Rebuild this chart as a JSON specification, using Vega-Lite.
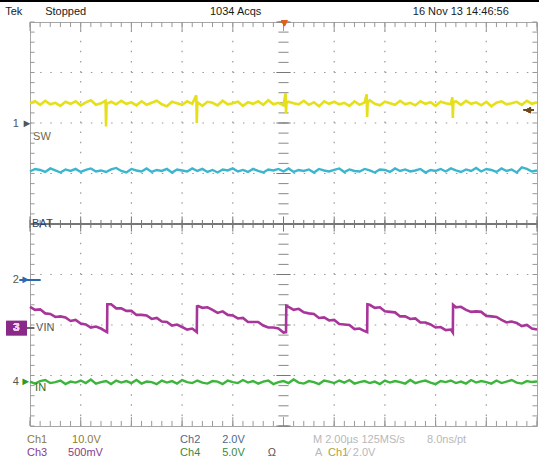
{
  "$schema": "https://vega.github.io/schema/vega-lite/v6.json",
  "width": 507,
  "height": 404,
  "autosize": {"type": "none"},
  "padding": {"left": 30, "top": 22, "right": 2, "bottom": 36},
  "background": "white",
  "config": {
    "view": {"stroke": "#a6a6a6", "strokeWidth": 1},
    "axis": {"labels": false, "ticks": false, "domain": false, "grid": false, "titleOpacity": 0},
    "text": {"font": "Liberation Sans Narrow, Liberation Sans, sans-serif", "fontSize": 11, "baseline": "middle", "align": "left"}
  },
  "datasets": {
    "mx": [{"x":0},{"x":0.2},{"x":0.4},{"x":0.6},{"x":0.8},{"x":1},{"x":1.2},{"x":1.4},{"x":1.6},{"x":1.8},{"x":2},{"x":2.2},{"x":2.4},{"x":2.6},{"x":2.8},{"x":3},{"x":3.2},{"x":3.4},{"x":3.6},{"x":3.8},{"x":4},{"x":4.2},{"x":4.4},{"x":4.6},{"x":4.8},{"x":5},{"x":5.2},{"x":5.4},{"x":5.6},{"x":5.8},{"x":6},{"x":6.2},{"x":6.4},{"x":6.6},{"x":6.8},{"x":7},{"x":7.2},{"x":7.4},{"x":7.6},{"x":7.8},{"x":8},{"x":8.2},{"x":8.4},{"x":8.6},{"x":8.8},{"x":9},{"x":9.2},{"x":9.4},{"x":9.6},{"x":9.8},{"x":10}],
    "Mx": [{"x":0},{"x":1},{"x":2},{"x":3},{"x":4},{"x":5},{"x":6},{"x":7},{"x":8},{"x":9},{"x":10}],
    "gx": [{"x":1},{"x":2},{"x":3},{"x":4},{"x":6},{"x":7},{"x":8},{"x":9}],
    "gy": [{"y":-3},{"y":-2},{"y":-1},{"y":1},{"y":2},{"y":3}],
    "my": [{"y":-4},{"y":-3.8},{"y":-3.6},{"y":-3.4},{"y":-3.2},{"y":-3},{"y":-2.8},{"y":-2.6},{"y":-2.4},{"y":-2.2},{"y":-2},{"y":-1.8},{"y":-1.6},{"y":-1.4},{"y":-1.2},{"y":-1},{"y":-0.8},{"y":-0.6},{"y":-0.4},{"y":-0.2},{"y":0},{"y":0.2},{"y":0.4},{"y":0.6},{"y":0.8},{"y":1},{"y":1.2},{"y":1.4},{"y":1.6},{"y":1.8},{"y":2},{"y":2.2},{"y":2.4},{"y":2.6},{"y":2.8},{"y":3},{"y":3.2},{"y":3.4},{"y":3.6},{"y":3.8},{"y":4}],
    "My": [{"y":-4},{"y":-3},{"y":-2},{"y":-1},{"y":0},{"y":1},{"y":2},{"y":3},{"y":4}],
    "ch1": [{"x":0,"y":2.39},{"x":0.1,"y":2.43},{"x":0.2,"y":2.36},{"x":0.3,"y":2.44},{"x":0.4,"y":2.37},{"x":0.5,"y":2.40},{"x":0.6,"y":2.34},{"x":0.7,"y":2.42},{"x":0.8,"y":2.38},{"x":0.9,"y":2.43},{"x":1.0,"y":2.35},{"x":1.1,"y":2.41},{"x":1.2,"y":2.45},{"x":1.3,"y":2.36},{"x":1.4,"y":2.39},{"x":1.49,"y":2.44},{"x":1.50,"y":1.93},{"x":1.51,"y":2.38},{"x":1.6,"y":2.42},{"x":1.7,"y":2.37},{"x":1.8,"y":2.44},{"x":1.9,"y":2.38},
      {"x":2.0,"y":2.41},{"x":2.1,"y":2.35},{"x":2.2,"y":2.43},{"x":2.3,"y":2.36},{"x":2.4,"y":2.40},{"x":2.5,"y":2.44},{"x":2.6,"y":2.37},{"x":2.7,"y":2.33},{"x":2.8,"y":2.42},{"x":2.9,"y":2.39},{"x":3.0,"y":2.36},{"x":3.1,"y":2.43},{"x":3.2,"y":2.38},{"x":3.28,"y":2.55},{"x":3.29,"y":2.00},{"x":3.3,"y":2.41},{"x":3.4,"y":2.34},{"x":3.5,"y":2.42},{"x":3.6,"y":2.40},{"x":3.7,"y":2.35},{"x":3.8,"y":2.44},{"x":3.9,"y":2.37},
      {"x":4.0,"y":2.39},{"x":4.1,"y":2.42},{"x":4.2,"y":2.34},{"x":4.3,"y":2.41},{"x":4.4,"y":2.38},{"x":4.5,"y":2.43},{"x":4.6,"y":2.36},{"x":4.7,"y":2.45},{"x":4.8,"y":2.37},{"x":4.9,"y":2.40},{"x":5.0,"y":2.35},{"x":5.04,"y":2.59},{"x":5.05,"y":2.20},{"x":5.06,"y":2.42},{"x":5.1,"y":2.42},{"x":5.2,"y":2.39},{"x":5.3,"y":2.37},{"x":5.4,"y":2.44},{"x":5.5,"y":2.36},{"x":5.6,"y":2.41},{"x":5.7,"y":2.33},{"x":5.8,"y":2.43},{"x":5.9,"y":2.38},
      {"x":6.0,"y":2.42},{"x":6.1,"y":2.37},{"x":6.2,"y":2.40},{"x":6.3,"y":2.34},{"x":6.4,"y":2.43},{"x":6.5,"y":2.36},{"x":6.6,"y":2.41},{"x":6.64,"y":2.57},{"x":6.65,"y":2.12},{"x":6.66,"y":2.40},{"x":6.7,"y":2.45},{"x":6.8,"y":2.38},{"x":6.9,"y":2.35},{"x":7.0,"y":2.42},{"x":7.1,"y":2.39},{"x":7.2,"y":2.36},{"x":7.3,"y":2.44},{"x":7.4,"y":2.37},{"x":7.5,"y":2.40},{"x":7.6,"y":2.35},{"x":7.7,"y":2.43},{"x":7.8,"y":2.38},{"x":7.9,"y":2.41},
      {"x":8.0,"y":2.34},{"x":8.1,"y":2.42},{"x":8.2,"y":2.39},{"x":8.3,"y":2.37},{"x":8.33,"y":2.51},{"x":8.34,"y":2.10},{"x":8.35,"y":2.41},{"x":8.4,"y":2.43},{"x":8.5,"y":2.36},{"x":8.6,"y":2.44},{"x":8.7,"y":2.38},{"x":8.8,"y":2.41},{"x":8.9,"y":2.35},{"x":9.0,"y":2.42},{"x":9.1,"y":2.33},{"x":9.2,"y":2.40},{"x":9.3,"y":2.43},{"x":9.4,"y":2.37},{"x":9.5,"y":2.39},{"x":9.6,"y":2.42},{"x":9.7,"y":2.36},{"x":9.8,"y":2.44},{"x":9.9,"y":2.38},{"x":10.0,"y":2.41}],
    "ch2": [{"x":0,"y":1.04},{"x":0.1,"y":1.09},{"x":0.2,"y":1.07},{"x":0.3,"y":1.03},{"x":0.4,"y":1.10},{"x":0.5,"y":1.06},{"x":0.6,"y":1.02},{"x":0.7,"y":1.08},{"x":0.8,"y":1.05},{"x":0.9,"y":1.09},{"x":1.0,"y":1.03},{"x":1.1,"y":1.07},{"x":1.2,"y":1.10},{"x":1.3,"y":1.04},{"x":1.4,"y":1.06},{"x":1.5,"y":1.03},{"x":1.6,"y":1.08},{"x":1.7,"y":1.11},{"x":1.8,"y":1.05},{"x":1.9,"y":1.02},
      {"x":2.0,"y":1.09},{"x":2.1,"y":1.06},{"x":2.2,"y":1.04},{"x":2.3,"y":1.10},{"x":2.4,"y":1.03},{"x":2.5,"y":1.07},{"x":2.6,"y":1.05},{"x":2.7,"y":1.09},{"x":2.8,"y":1.02},{"x":2.9,"y":1.08},{"x":3.0,"y":1.06},{"x":3.1,"y":1.04},{"x":3.2,"y":1.10},{"x":3.3,"y":1.05},{"x":3.4,"y":1.09},{"x":3.5,"y":1.03},{"x":3.6,"y":1.07},{"x":3.7,"y":1.02},{"x":3.8,"y":1.08},{"x":3.9,"y":1.06},
      {"x":4.0,"y":1.10},{"x":4.1,"y":1.04},{"x":4.2,"y":1.07},{"x":4.3,"y":1.03},{"x":4.4,"y":1.09},{"x":4.5,"y":1.05},{"x":4.6,"y":1.02},{"x":4.7,"y":1.08},{"x":4.8,"y":1.06},{"x":4.9,"y":1.09},{"x":5.0,"y":1.04},{"x":5.1,"y":1.10},{"x":5.2,"y":1.03},{"x":5.3,"y":1.07},{"x":5.4,"y":1.05},{"x":5.5,"y":1.08},{"x":5.6,"y":1.02},{"x":5.7,"y":1.09},{"x":5.8,"y":1.06},{"x":5.9,"y":1.04},
      {"x":6.0,"y":1.07},{"x":6.1,"y":1.10},{"x":6.2,"y":1.03},{"x":6.3,"y":1.08},{"x":6.4,"y":1.05},{"x":6.5,"y":1.04},{"x":6.6,"y":1.09},{"x":6.7,"y":1.06},{"x":6.8,"y":1.02},{"x":6.9,"y":1.08},{"x":7.0,"y":1.07},{"x":7.1,"y":1.03},{"x":7.2,"y":1.10},{"x":7.3,"y":1.05},{"x":7.4,"y":1.08},{"x":7.5,"y":1.04},{"x":7.6,"y":1.06},{"x":7.7,"y":1.09},{"x":7.8,"y":1.02},{"x":7.9,"y":1.07},
      {"x":8.0,"y":1.05},{"x":8.1,"y":1.09},{"x":8.2,"y":1.04},{"x":8.3,"y":1.10},{"x":8.4,"y":1.06},{"x":8.5,"y":1.03},{"x":8.6,"y":1.08},{"x":8.7,"y":1.05},{"x":8.8,"y":1.11},{"x":8.9,"y":1.04},{"x":9.0,"y":1.09},{"x":9.1,"y":1.07},{"x":9.2,"y":1.03},{"x":9.3,"y":1.10},{"x":9.4,"y":1.05},{"x":9.5,"y":1.08},{"x":9.6,"y":1.02},{"x":9.7,"y":1.12},{"x":9.8,"y":1.09},{"x":9.9,"y":1.04},{"x":10.0,"y":1.06}],
    "ch3": [{"x":0,"y":-1.64},{"x":0.1,"y":-1.70},{"x":0.2,"y":-1.69},{"x":0.3,"y":-1.77},{"x":0.4,"y":-1.78},{"x":0.5,"y":-1.84},{"x":0.6,"y":-1.83},{"x":0.7,"y":-1.85},{"x":0.8,"y":-1.92},{"x":0.9,"y":-1.90},{"x":1.0,"y":-1.97},{"x":1.1,"y":-1.99},{"x":1.2,"y":-2.05},{"x":1.3,"y":-2.03},{"x":1.4,"y":-2.07},{"x":1.5,"y":-2.13},{"x":1.52,"y":-2.14},{"x":1.525,"y":-1.59},
      {"x":1.6,"y":-1.59},{"x":1.7,"y":-1.67},{"x":1.8,"y":-1.67},{"x":1.9,"y":-1.72},{"x":2.0,"y":-1.72},{"x":2.1,"y":-1.80},{"x":2.2,"y":-1.80},{"x":2.3,"y":-1.81},{"x":2.4,"y":-1.88},{"x":2.5,"y":-1.86},{"x":2.6,"y":-1.93},{"x":2.7,"y":-1.94},{"x":2.8,"y":-2.01},{"x":2.9,"y":-1.99},{"x":3.0,"y":-2.04},{"x":3.1,"y":-2.09},{"x":3.2,"y":-2.07},{"x":3.29,"y":-2.14},{"x":3.295,"y":-1.61},
      {"x":3.3,"y":-1.62},{"x":3.4,"y":-1.66},{"x":3.5,"y":-1.65},{"x":3.6,"y":-1.70},{"x":3.7,"y":-1.76},{"x":3.8,"y":-1.73},{"x":3.9,"y":-1.80},{"x":4.0,"y":-1.81},{"x":4.1,"y":-1.87},{"x":4.2,"y":-1.86},{"x":4.3,"y":-1.94},{"x":4.4,"y":-1.94},{"x":4.5,"y":-1.94},{"x":4.6,"y":-2.01},{"x":4.7,"y":-2.05},{"x":4.8,"y":-2.05},{"x":4.9,"y":-2.07},{"x":5.0,"y":-2.15},{"x":5.05,"y":-2.14},{"x":5.055,"y":-1.62},
      {"x":5.1,"y":-1.64},{"x":5.2,"y":-1.70},{"x":5.3,"y":-1.68},{"x":5.4,"y":-1.75},{"x":5.5,"y":-1.77},{"x":5.6,"y":-1.78},{"x":5.7,"y":-1.86},{"x":5.8,"y":-1.85},{"x":5.9,"y":-1.91},{"x":6.0,"y":-1.90},{"x":6.1,"y":-1.98},{"x":6.2,"y":-1.99},{"x":6.3,"y":-2.00},{"x":6.4,"y":-2.08},{"x":6.5,"y":-2.07},{"x":6.6,"y":-2.12},{"x":6.65,"y":-2.14},{"x":6.655,"y":-1.59},
      {"x":6.7,"y":-1.60},{"x":6.8,"y":-1.66},{"x":6.9,"y":-1.65},{"x":7.0,"y":-1.73},{"x":7.1,"y":-1.74},{"x":7.2,"y":-1.75},{"x":7.3,"y":-1.83},{"x":7.4,"y":-1.83},{"x":7.5,"y":-1.88},{"x":7.6,"y":-1.87},{"x":7.7,"y":-1.95},{"x":7.8,"y":-1.95},{"x":7.9,"y":-1.99},{"x":8.0,"y":-2.05},{"x":8.1,"y":-2.04},{"x":8.2,"y":-2.10},{"x":8.3,"y":-2.09},{"x":8.34,"y":-2.15},{"x":8.345,"y":-1.60},
      {"x":8.4,"y":-1.65},{"x":8.5,"y":-1.64},{"x":8.6,"y":-1.70},{"x":8.7,"y":-1.74},{"x":8.8,"y":-1.73},{"x":8.9,"y":-1.74},{"x":9.0,"y":-1.82},{"x":9.1,"y":-1.83},{"x":9.2,"y":-1.84},{"x":9.3,"y":-1.90},{"x":9.4,"y":-1.95},{"x":9.5,"y":-1.93},{"x":9.6,"y":-1.96},{"x":9.7,"y":-2.02},{"x":9.8,"y":-2.00},{"x":9.9,"y":-2.07},{"x":10.0,"y":-2.09}],
    "ch4": [{"x":0,"y":-3.12},{"x":0.1,"y":-3.16},{"x":0.2,"y":-3.11},{"x":0.3,"y":-3.09},{"x":0.4,"y":-3.15},{"x":0.5,"y":-3.13},{"x":0.6,"y":-3.10},{"x":0.7,"y":-3.17},{"x":0.8,"y":-3.12},{"x":0.9,"y":-3.14},{"x":1.0,"y":-3.10},{"x":1.1,"y":-3.15},{"x":1.2,"y":-3.08},{"x":1.3,"y":-3.16},{"x":1.4,"y":-3.13},{"x":1.5,"y":-3.11},{"x":1.6,"y":-3.17},{"x":1.7,"y":-3.10},{"x":1.8,"y":-3.14},{"x":1.9,"y":-3.11},
      {"x":2.0,"y":-3.15},{"x":2.1,"y":-3.09},{"x":2.2,"y":-3.16},{"x":2.3,"y":-3.12},{"x":2.4,"y":-3.13},{"x":2.5,"y":-3.17},{"x":2.6,"y":-3.10},{"x":2.7,"y":-3.14},{"x":2.8,"y":-3.11},{"x":2.9,"y":-3.16},{"x":3.0,"y":-3.09},{"x":3.1,"y":-3.13},{"x":3.2,"y":-3.15},{"x":3.3,"y":-3.10},{"x":3.4,"y":-3.14},{"x":3.5,"y":-3.16},{"x":3.6,"y":-3.11},{"x":3.7,"y":-3.12},{"x":3.8,"y":-3.17},{"x":3.9,"y":-3.10},
      {"x":4.0,"y":-3.13},{"x":4.1,"y":-3.15},{"x":4.2,"y":-3.09},{"x":4.3,"y":-3.14},{"x":4.4,"y":-3.11},{"x":4.5,"y":-3.16},{"x":4.6,"y":-3.12},{"x":4.7,"y":-3.10},{"x":4.8,"y":-3.17},{"x":4.9,"y":-3.13},{"x":5.0,"y":-3.11},{"x":5.1,"y":-3.15},{"x":5.2,"y":-3.08},{"x":5.3,"y":-3.14},{"x":5.4,"y":-3.16},{"x":5.5,"y":-3.11},{"x":5.6,"y":-3.13},{"x":5.7,"y":-3.17},{"x":5.8,"y":-3.10},{"x":5.9,"y":-3.12},
      {"x":6.0,"y":-3.15},{"x":6.1,"y":-3.10},{"x":6.2,"y":-3.14},{"x":6.3,"y":-3.09},{"x":6.4,"y":-3.16},{"x":6.5,"y":-3.13},{"x":6.6,"y":-3.11},{"x":6.7,"y":-3.15},{"x":6.8,"y":-3.12},{"x":6.9,"y":-3.17},{"x":7.0,"y":-3.10},{"x":7.1,"y":-3.14},{"x":7.2,"y":-3.11},{"x":7.3,"y":-3.13},{"x":7.4,"y":-3.16},{"x":7.5,"y":-3.09},{"x":7.6,"y":-3.15},{"x":7.7,"y":-3.12},{"x":7.8,"y":-3.10},{"x":7.9,"y":-3.14},
      {"x":8.0,"y":-3.17},{"x":8.1,"y":-3.11},{"x":8.2,"y":-3.13},{"x":8.3,"y":-3.10},{"x":8.4,"y":-3.15},{"x":8.5,"y":-3.12},{"x":8.6,"y":-3.16},{"x":8.7,"y":-3.09},{"x":8.8,"y":-3.14},{"x":8.9,"y":-3.11},{"x":9.0,"y":-3.13},{"x":9.1,"y":-3.16},{"x":9.2,"y":-3.10},{"x":9.3,"y":-3.15},{"x":9.4,"y":-3.12},{"x":9.5,"y":-3.09},{"x":9.6,"y":-3.14},{"x":9.7,"y":-3.16},{"x":9.8,"y":-3.11},{"x":9.9,"y":-3.13},{"x":10.0,"y":-3.12}],
    "lab": [
      {"x":-0.49,"y":4.2,"t":"Tek","c":"h"},
      {"x":0.3,"y":4.2,"t":"Stopped","c":"h"},
      {"x":3.55,"y":4.2,"t":"1034 Acqs","c":"h"},
      {"x":7.55,"y":4.2,"t":"16 Nov 13 14:46:56","c":"h"},
      {"x":-0.06,"y":-4.28,"t":"Ch1","c":"c1"},
      {"x":0.83,"y":-4.28,"t":"10.0V","c":"c1"},
      {"x":2.96,"y":-4.28,"t":"Ch2","c":"c2"},
      {"x":3.79,"y":-4.28,"t":"2.0V","c":"c2"},
      {"x":-0.06,"y":-4.53,"t":"Ch3","c":"c3"},
      {"x":0.75,"y":-4.53,"t":"500mV","c":"c3"},
      {"x":2.96,"y":-4.53,"t":"Ch4","c":"c4"},
      {"x":3.79,"y":-4.53,"t":"5.0V","c":"c4"},
      {"x":4.69,"y":-4.53,"t":"Ω","c":"g"},
      {"x":5.58,"y":-4.28,"t":"M 2.00µs 125MS/s","c":"lg"},
      {"x":7.83,"y":-4.28,"t":"8.0ns/pt","c":"lg"},
      {"x":5.62,"y":-4.53,"t":"A","c":"lg"},
      {"x":5.88,"y":-4.53,"t":"Ch1","c":"c1l"},
      {"x":6.27,"y":-4.53,"t":"⁄  2.0V","c":"lg"},
      {"x":-0.34,"y":1.98,"t":"1","c":"g"},
      {"x":-0.17,"y":1.98,"t":"►","c":"g"},
      {"x":0.06,"y":1.73,"t":"SW","c":"sw"},
      {"x":0.04,"y":0,"t":"BAT","c":"bat"},
      {"x":-0.34,"y":-1.11,"t":"2","c":"g"},
      {"x":-0.19,"y":-1.11,"t":"►","c":"c2a"},
      {"x":0.12,"y":-2.06,"t":"VIN","c":"g"},
      {"x":-0.34,"y":-3.13,"t":"4","c":"g"},
      {"x":-0.19,"y":-3.13,"t":"►","c":"c4a"},
      {"x":0.1,"y":-3.24,"t":"IN","c":"in"}
    ]
  },
  "layer": [
    {
      "data": {"name": "gx"},
      "mark": {"type": "rule", "color": "#9a9a9a", "strokeWidth": 1.2, "strokeDash": [1.5, 8.6]},
      "encoding": {
        "x": {"field": "x", "type": "quantitative", "scale": {"domain": [0, 10], "nice": false, "zero": false}, "axis": null},
        "y": {"datum": -4, "scale": {"domain": [-4, 4], "nice": false, "zero": false}, "axis": null},
        "y2": {"datum": 4}
      }
    },
    {"data": {"name": "gy"}, "mark": {"type": "rule", "color": "#9a9a9a", "strokeWidth": 1.2, "strokeDash": [1.5, 8.64]},
     "encoding": {"y": {"field": "y", "type": "quantitative", "axis": null}, "x": {"datum": 0, "axis": null}, "x2": {"datum": 10}}},
    {"data": {"name": "mx"}, "mark": {"type": "rule", "color": "#999999"},
     "encoding": {"x": {"field": "x", "type": "quantitative", "axis": null}, "y": {"datum": 4, "axis": null}, "y2": {"datum": 3.9}}},
    {"data": {"name": "Mx"}, "mark": {"type": "rule", "color": "#999999"},
     "encoding": {"x": {"field": "x", "type": "quantitative", "axis": null}, "y": {"datum": 4, "axis": null}, "y2": {"datum": 3.82}}},
    {"data": {"name": "mx"}, "mark": {"type": "rule", "color": "#999999"},
     "encoding": {"x": {"field": "x", "type": "quantitative", "axis": null}, "y": {"datum": -4, "axis": null}, "y2": {"datum": -3.9}}},
    {"data": {"name": "Mx"}, "mark": {"type": "rule", "color": "#999999"},
     "encoding": {"x": {"field": "x", "type": "quantitative", "axis": null}, "y": {"datum": -4, "axis": null}, "y2": {"datum": -3.82}}},
    {"data": {"name": "mx"}, "mark": {"type": "rule", "color": "#777777"},
     "encoding": {"x": {"field": "x", "type": "quantitative", "axis": null}, "y": {"datum": 0.08, "axis": null}, "y2": {"datum": -0.08}}},
    {"data": {"name": "Mx"}, "mark": {"type": "rule", "color": "#777777"},
     "encoding": {"x": {"field": "x", "type": "quantitative", "axis": null}, "y": {"datum": 0.15, "axis": null}, "y2": {"datum": -0.15}}},
    {"data": {"name": "my"}, "mark": {"type": "rule", "color": "#888888"},
     "encoding": {"y": {"field": "y", "type": "quantitative", "axis": null}, "x": {"datum": 4.9, "axis": null}, "x2": {"datum": 5.1}}},
    {"data": {"name": "My"}, "mark": {"type": "rule", "color": "#777777"},
     "encoding": {"y": {"field": "y", "type": "quantitative", "axis": null}, "x": {"datum": 4.86, "axis": null}, "x2": {"datum": 5.14}}},
    {"data": {"name": "my"}, "mark": {"type": "rule", "color": "#999999"},
     "encoding": {"y": {"field": "y", "type": "quantitative", "axis": null}, "x": {"datum": 0, "axis": null}, "x2": {"datum": 0.09}}},
    {"data": {"name": "my"}, "mark": {"type": "rule", "color": "#999999"},
     "encoding": {"y": {"field": "y", "type": "quantitative", "axis": null}, "x": {"datum": 9.91, "axis": null}, "x2": {"datum": 10}}},
    {"data": {"name": "Mx"}, "mark": {"type": "rule", "color": "#777777"},
     "encoding": {"y": {"datum": 0, "axis": null}, "x": {"datum": 0, "axis": null}, "x2": {"datum": 10}}},
    {"data": {"name": "Mx"}, "mark": {"type": "rule", "color": "#000000", "strokeWidth": 2.5},
     "encoding": {"y": {"datum": 4.43, "axis": null}, "x": {"datum": -0.6, "axis": null}, "x2": {"datum": 10.05}}},
    {"data": {"name": "Mx"}, "mark": {"type": "rule", "color": "#2a6ab0", "strokeWidth": 1.5},
     "encoding": {"y": {"datum": -1.11, "axis": null}, "x": {"datum": -0.2, "axis": null}, "x2": {"datum": 0.2}}},
    {"data": {"name": "Mx"}, "mark": {"type": "rule", "color": "#666666", "strokeWidth": 1.5},
     "encoding": {"y": {"datum": -2.06, "axis": null}, "x": {"datum": -0.06, "axis": null}, "x2": {"datum": 0.08}}},
    {"data": {"name": "Mx"}, "mark": {"type": "rule", "color": "#6a4a20", "strokeWidth": 1.5},
     "encoding": {"y": {"datum": 2.26, "axis": null}, "x": {"datum": 9.74, "axis": null}, "x2": {"datum": 9.94}}},
    {"data": {"name": "Mx"}, "mark": {"type": "rect", "color": "#8a2a88"},
     "encoding": {"x": {"datum": -0.47, "axis": null}, "x2": {"datum": -0.06}, "y": {"datum": -1.92, "axis": null}, "y2": {"datum": -2.2}}},
    {"data": {"name": "ch2"}, "mark": {"type": "line", "color": "#3cb6cf", "strokeWidth": 2.4},
     "encoding": {"x": {"field": "x", "type": "quantitative", "axis": null}, "y": {"field": "y", "type": "quantitative", "axis": null}}},
    {"data": {"name": "ch4"}, "mark": {"type": "line", "color": "#3db53d", "strokeWidth": 2.4},
     "encoding": {"x": {"field": "x", "type": "quantitative", "axis": null}, "y": {"field": "y", "type": "quantitative", "axis": null}}},
    {"data": {"name": "ch3"}, "mark": {"type": "line", "color": "#a8359a", "strokeWidth": 2.6},
     "encoding": {"x": {"field": "x", "type": "quantitative", "axis": null}, "y": {"field": "y", "type": "quantitative", "axis": null}}},
    {"data": {"name": "ch1"}, "mark": {"type": "line", "color": "#e6e01a", "strokeWidth": 2.6},
     "encoding": {"x": {"field": "x", "type": "quantitative", "axis": null}, "y": {"field": "y", "type": "quantitative", "axis": null}}},
    {"data": {"name": "lab"}, "mark": {"type": "text"},
     "encoding": {
       "x": {"field": "x", "type": "quantitative", "axis": null},
       "y": {"field": "y", "type": "quantitative", "axis": null},
       "text": {"field": "t"},
       "color": {"field": "c", "type": "nominal", "legend": null,
         "scale": {"domain": ["h","c1","c2","c3","c4","g","lg","c1l","sw","bat","c2a","c4a","in"],
                   "range": ["#1a1a1a","#8c7b34","#4a6a8a","#8a3a8a","#3a8a3a","#555555","#b8b8b8","#b0a040","#6e6a4a","#2b3f73","#2a6ab0","#2a9a2a","#2a6e2a"]}}
     }},
    {"data": {"name": "Mx"}, "mark": {"type": "text", "color": "#6a4a20", "fontSize": 10},
     "encoding": {"x": {"datum": 9.72, "axis": null}, "y": {"datum": 2.26, "axis": null}, "text": {"value": "◄"}}},
    {"data": {"name": "Mx"}, "mark": {"type": "text", "color": "#e0601c", "fontSize": 10},
     "encoding": {"x": {"datum": 4.92, "axis": null}, "y": {"datum": 3.98, "axis": null}, "text": {"value": "▼"}}},
    {"data": {"name": "Mx"}, "mark": {"type": "text", "align": "center", "color": "#f0d0f0", "fontWeight": "bold"},
     "encoding": {"x": {"datum": -0.27, "axis": null}, "y": {"datum": -2.06, "axis": null}, "text": {"value": "3"}}}
  ]
}
